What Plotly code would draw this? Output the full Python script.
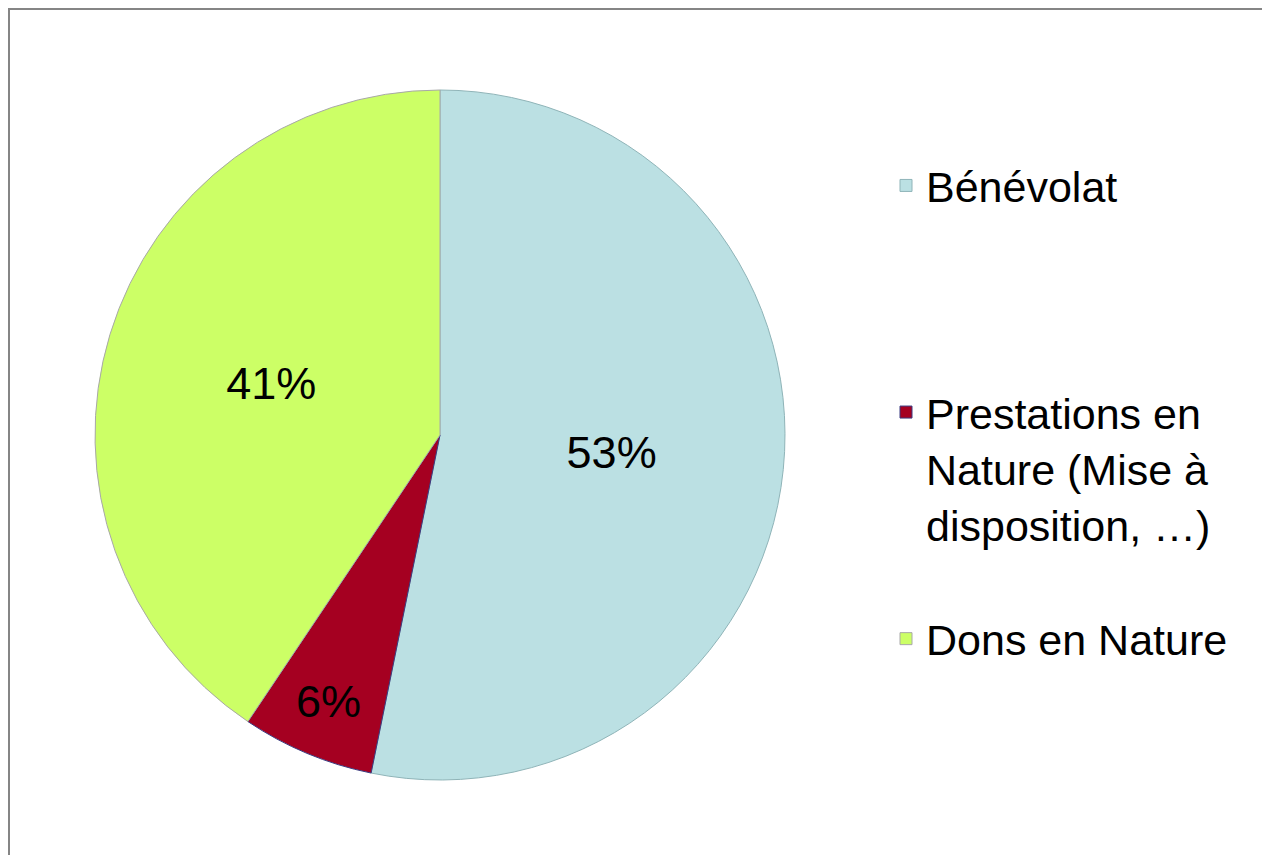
import plotly.graph_objects as go

categories = ["Bénévolat", "Prestations en Nature (Mise à disposition, …)", "Dons en Nature"]
legend_labels = [
    "Bénévolat<br>\u00a0<br>\u00a0<br>\u00a0",
    "Prestations en<br>Nature (Mise à<br>disposition, …)<br>\u00a0",
    "Dons en Nature",
]
values = [53.2, 6.2, 40.6]
colors = ["#BBE0E3", "#A50021", "#CCFF66"]
edge_colors = ["#8FB4B8", "#3B3B80", "#A8A8A8"]

W, H = 1270, 855
OFF = 8  # page body margin offset
cx, cy, R = 440 - OFF, 435 - OFF, 345

fig = go.Figure(go.Pie(
    labels=legend_labels,
    values=values,
    sort=False,
    direction="clockwise",
    rotation=0,
    marker=dict(colors=colors, line=dict(color=edge_colors, width=1)),
    texttemplate="%{percent:.0%}",
    textposition="inside",
    insidetextorientation="horizontal",
    textfont=dict(family="Liberation Sans, Arial, sans-serif", size=45, color="black"),
    domain=dict(x=[(cx - R) / W, (cx + R) / W], y=[1 - (cy + R) / H, 1 - (cy - R) / H]),
    hoverinfo="skip",
))

fig.update_layout(
    width=W, height=H,
    margin=dict(l=0, r=0, t=0, b=0),
    paper_bgcolor="white",
    plot_bgcolor="white",
    showlegend=True,
    legend=dict(
        x=(886 - OFF) / W, xanchor="left",
        y=1 - (151 - OFF) / H, yanchor="top",
        valign="top",
        font=dict(family="Liberation Sans, Arial, sans-serif", size=43, color="black"),
        bgcolor="rgba(0,0,0,0)",
    ),
    shapes=[
        dict(type="line", xref="paper", yref="paper",
             x0=0, x1=1.0, y0=1 - 1 / H, y1=1 - 1 / H,
             line=dict(color="#858585", width=2)),
        dict(type="line", xref="paper", yref="paper",
             x0=1 / W, x1=1 / W, y0=0.0, y1=1.0,
             line=dict(color="#858585", width=2)),
    ],
)

fig.write_html("out.html")
